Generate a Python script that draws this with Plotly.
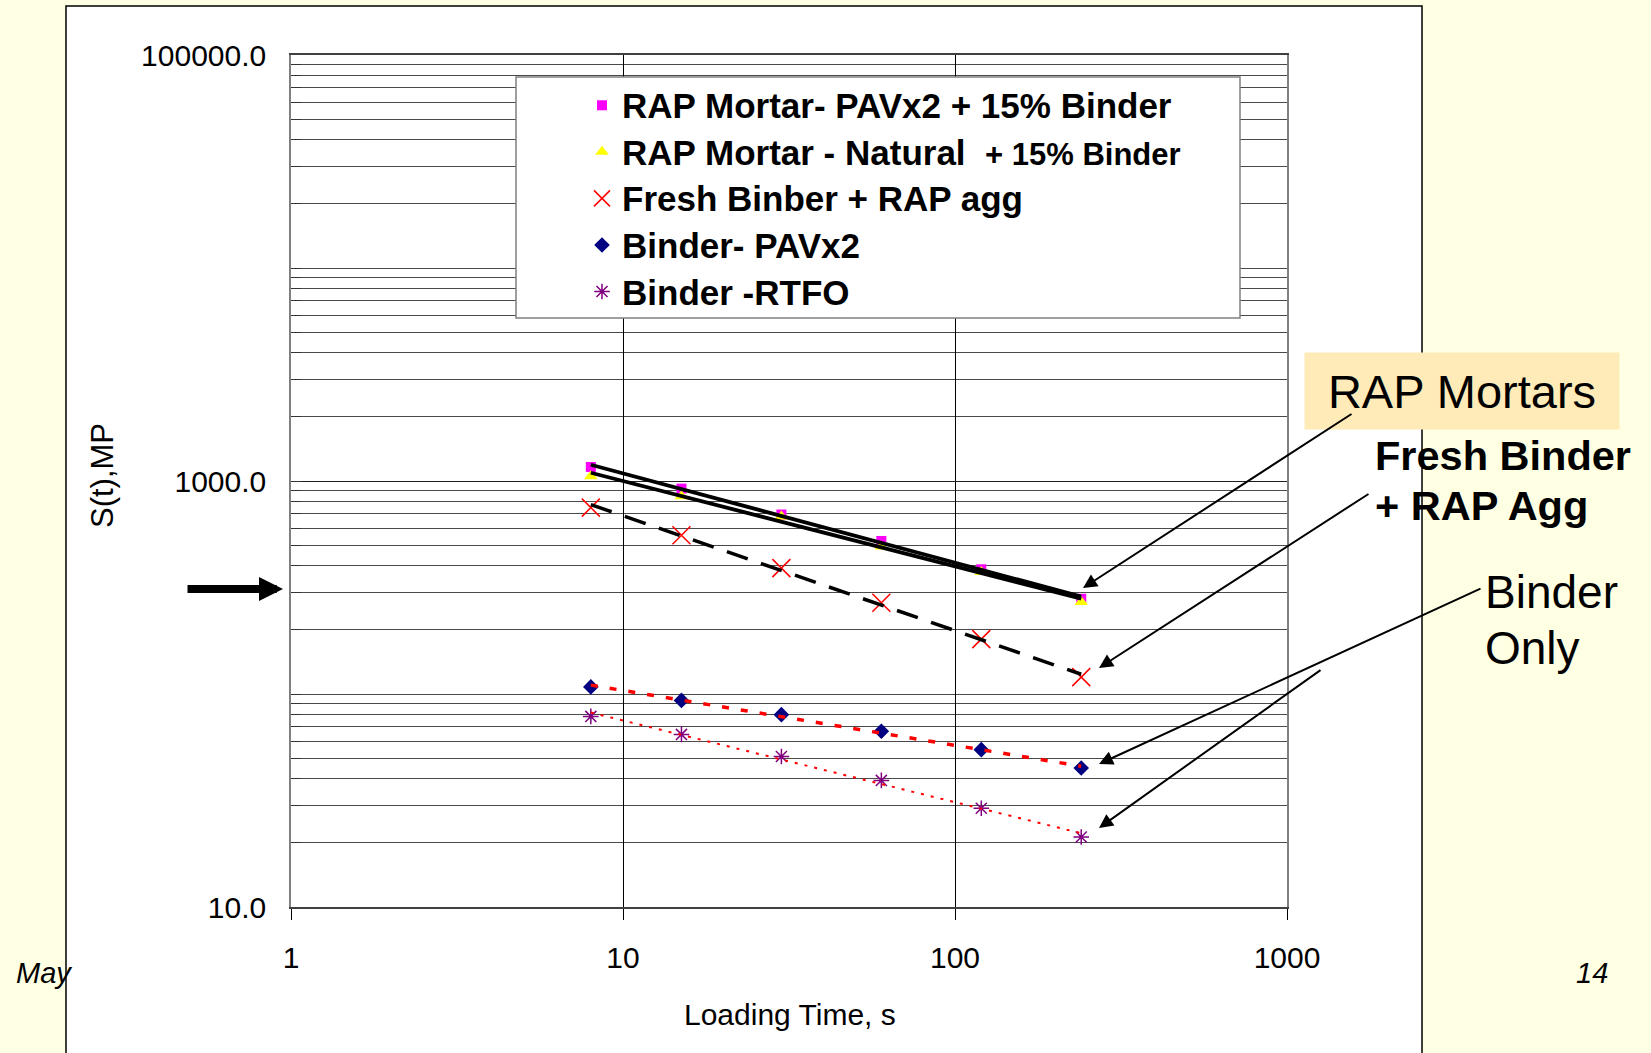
import numpy as np
import plotly.graph_objects as go

# ---------------- data ----------------
time_s = [8, 15, 30, 60, 120, 240]
rap_pav = [1164, 921, 696, 523, 385, 280]
rap_nat = [1052, 847, 682, 493, 374, 270]
fresh_rap = [750, 556, 390, 268, 181, 120]
binder_pav = [108, 93.3, 80, 66.8, 54.8, 44.9]
binder_rtfo = [78.5, 64.6, 50.9, 39.3, 29.1, 21.3]

series_names = [
    "RAP Mortar- PAVx2 + 15% Binder",
    "RAP Mortar - Natural  <span style='font-size:31px'>+ 15% Binder</span>",
    "Fresh Binber + RAP agg",
    "Binder- PAVx2",
    "Binder -RTFO",
]

x_tickvals = [1, 10, 100, 1000]
x_ticktext = ["1", "10", "100", "1000"]
y_tickvals = [10, 1000, 100000]
y_ticktext = ["10.0", "1000.0", "100000.0"]

# ---------------- geometry helpers ----------------
W, H = 1651, 1053
ML, MR, MT, MB = 291, 364, 55, 146
PW, PH = W - ML - MR, H - MT - MB


def px(x):
    return (x - ML) / PW


def py(y):
    return (H - MB - y) / PH


FONT = "Liberation Sans, Arial, sans-serif"

fig = go.Figure()

marker_specs = [
    (rap_pav, dict(symbol="square", size=10, color="#FF00FF")),
    (rap_nat, dict(symbol="triangle-up", size=12, color="#FFFF00")),
    (fresh_rap, dict(symbol="x-thin-open", size=18, color="#FF0000", line=dict(color="#FF0000", width=1.5))),
    (binder_pav, dict(symbol="diamond", size=12, color="#000080")),
    (binder_rtfo, dict(symbol="asterisk-open", size=13, color="#800080", line=dict(color="#800080", width=1.5))),
]

for (vals, mk), name in zip(marker_specs, series_names):
    fig.add_trace(go.Scatter(x=time_s, y=vals, mode="markers",
                             name="<span style='font-size:35px'>" + name + "</span>",
                             marker=mk))

# power-law trendlines (fitted from the data, straight on log-log axes)
trend_styles = [
    (rap_pav, dict(color="black", width=3.8)),
    (rap_nat, dict(color="black", width=3.8)),
    (fresh_rap, dict(color="black", width=3.5, dash="22px,14px")),
    (binder_pav, dict(color="#FF0000", width=3.5, dash="7px,12px")),
    (binder_rtfo, dict(color="#FF0000", width=2, dash="3px,7px")),
]
lx = np.log10(time_s)
for vals, ln in trend_styles:
    b, a = np.polyfit(lx, np.log10(vals), 1)
    fit = 10 ** (a + b * lx)
    fig.add_trace(go.Scatter(x=time_s, y=fit, mode="lines", line=ln,
                             showlegend=False, hoverinfo="skip"))

# minor gridlines on the log y axis
minor_vals = [k * 10 ** d for d in range(1, 5) for k in range(1, 10)
              if k * 10 ** d not in y_tickvals]

fig.update_xaxes(
    type="log", range=[0, 3],
    tickmode="array", tickvals=x_tickvals, ticktext=x_ticktext,
    ticks="outside", ticklen=11, tickcolor="black", tickwidth=1,
    showgrid=True, gridcolor="black", gridwidth=1,
    showline=True, linecolor="#404040", linewidth=2, mirror=True,
    tickfont=dict(family=FONT, size=30, color="black"),
    ticklabelstandoff=12,
    zeroline=False,
)
fig.update_yaxes(
    type="log", range=[1, 5],
    tickmode="array", tickvals=y_tickvals, ticktext=y_ticktext,
    ticks="inside", ticklen=10, tickcolor="#333333",
    showgrid=True, gridcolor="#202020", gridwidth=1,
    minor=dict(tickmode="array", tickvals=minor_vals, showgrid=True,
               gridcolor="#4a4a4a", gridwidth=1, ticks="inside",
               ticklen=10, tickcolor="#333333"),
    showline=True, linecolor="#808080", linewidth=1.5, mirror=True,
    tickfont=dict(family=FONT, size=30, color="black"),
    ticklabelstandoff=17,
    zeroline=False,
)

shapes = [
    # white slide panel
    dict(type="rect", xref="paper", yref="paper", layer="below",
         x0=px(66), x1=px(1422), y0=py(1070), y1=py(6),
         fillcolor="white", line=dict(color="black", width=1.5)),
    # legend box
    dict(type="rect", xref="paper", yref="paper", layer="above",
         x0=px(516), x1=px(1240), y0=py(318), y1=py(77),
         fillcolor="white", line=dict(color="#808080", width=1.5)),
]

annotations = [
    dict(text="Loading Time, s", x=px(790), y=py(1014), xref="paper", yref="paper",
         xanchor="center", yanchor="middle", showarrow=False,
         font=dict(family=FONT, size=30, color="black")),
    dict(text="S(t),MP", x=px(102), y=py(476), xref="paper", yref="paper",
         xanchor="center", yanchor="middle", textangle=-90, showarrow=False,
         font=dict(family=FONT, size=31, color="black")),
    dict(text="<i>May</i>", x=px(14), y=py(973), xref="paper", yref="paper",
         xanchor="left", yanchor="middle", showarrow=False,
         font=dict(family=FONT, size=29, color="black")),
    dict(text="<i>14</i>", x=px(1592), y=py(973), xref="paper", yref="paper",
         xanchor="center", yanchor="middle", showarrow=False,
         font=dict(family=FONT, size=29, color="black")),
    dict(text="RAP Mortars", x=px(1462), y=py(391), xref="paper", yref="paper",
         xanchor="center", yanchor="middle", showarrow=False,
         width=314, height=76, borderpad=0, bgcolor="#FFEBB8",
         font=dict(family=FONT, size=47, color="black")),
    dict(text="<b>Fresh Binder</b>", x=px(1373), y=py(455), xref="paper", yref="paper",
         xanchor="left", yanchor="middle", showarrow=False,
         font=dict(family=FONT, size=41.5, color="black")),
    dict(text="<b>+ RAP Agg</b>", x=px(1373), y=py(506), xref="paper", yref="paper",
         xanchor="left", yanchor="middle", showarrow=False,
         font=dict(family=FONT, size=41.5, color="black")),
    dict(text="Binder", x=px(1483), y=py(592), xref="paper", yref="paper",
         xanchor="left", yanchor="middle", showarrow=False,
         font=dict(family=FONT, size=46, color="black")),
    dict(text="Only", x=px(1483), y=py(648), xref="paper", yref="paper",
         xanchor="left", yanchor="middle", showarrow=False,
         font=dict(family=FONT, size=46, color="black")),
]

# arrows: (tip_x, tip_y, tail_x, tail_y) in pixels
arrows = [
    (1083, 588, 1353, 413),
    (1099, 668, 1370, 493),
    (1099, 764, 1482, 588),
    (1099, 828, 1322, 669),
]
for tx, ty, sx, sy in arrows:
    annotations.append(dict(
        text="", x=px(tx), y=py(ty), xref="paper", yref="paper",
        ax=sx - tx, ay=sy - ty, showarrow=True, arrowhead=2,
        arrowwidth=2, arrowsize=1.4, arrowcolor="black", standoff=0))

annotations.append(dict(
    text="", x=px(283), y=py(589), xref="paper", yref="paper",
    ax=186 - 283, ay=0, showarrow=True, arrowhead=2,
    arrowwidth=8, arrowsize=0.6, arrowcolor="black", standoff=0))

fig.update_layout(
    width=W, height=H,
    margin=dict(l=ML, r=MR, t=MT, b=MB, pad=0),
    paper_bgcolor="#FFFFE3",
    plot_bgcolor="white",
    shapes=shapes,
    annotations=annotations,
    showlegend=True,
    legend=dict(
        x=px(582), y=py(77), xanchor="left", yanchor="top",
        bgcolor="rgba(0,0,0,0)", borderwidth=0,
        font=dict(family=FONT, size=33.5, color="black", weight="bold"),
        itemsizing="trace",
    ),
)

fig.write_html("out.html")
